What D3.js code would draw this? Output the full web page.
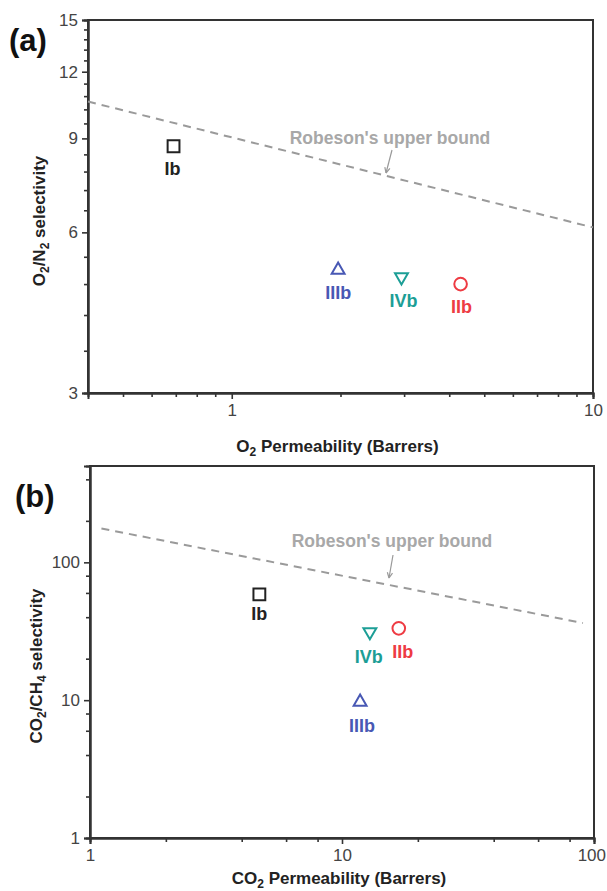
<!DOCTYPE html>
<html><head><meta charset="utf-8">
<script src="https://cdn.jsdelivr.net/npm/d3@7"></script>
<style>
html,body{margin:0;padding:0;background:#fff;}
svg{display:block;font-family:"Liberation Sans",Arial,sans-serif;}
</style></head>
<body><svg id="chart" width="607" height="891"></svg>
<script>
// ---------- data ----------
const samples = ["Ib", "IIb", "IIIb", "IVb"];
const sampleColors = ["#222222", "#ee3b43", "#4858b4", "#1c9e96"];
const sampleShapes = ["square", "circle", "triangleUp", "triangleDown"];

// panel (a)
const o2Perm = [0.69, 4.3, 1.97, 2.95];
const o2n2Sel = [8.7, 4.8, 5.1, 4.95];
const robesonA_x = [0.4, 10];
const robesonA_y = [10.55, 6.13];
const aXMajor = [1, 10];
const aXMinor = [0.5, 0.6, 0.7, 0.8, 0.9, 2, 3, 4, 5, 6, 7, 8, 9];
const aYMajor = [3, 6, 9, 12, 15];
const aYMinor = [3.6, 4.2, 4.8, 5.4, 6.6, 7.2, 7.8, 8.4, 9.6, 10.2, 10.8, 11.4, 12.6, 13.2, 13.8, 14.4];

// panel (b)
const co2Perm = [4.7, 16.8, 11.8, 12.9];
const co2ch4Sel = [58.6, 33.2, 9.7, 31.3];
const robesonB_x = [1.11, 90.4];
const robesonB_y = [176, 36.3];
const bXMajor = [1, 10, 100];
const bXMinor = [2, 4, 6, 8, 20, 40, 60, 80];
const bYMajor = [1, 10, 100];
const bYMinor = [2, 4, 6, 8, 20, 40, 60, 80, 200, 400];

// ---------- drawing ----------
const svg = d3.select("#chart");
const W = 607;
const FONT = '"Liberation Sans",Arial,sans-serif';
const TICK_FS = 17, TITLE_FS = 17, SUB_FS = 12, ROB_FS = 17.5, LBL_FS = 18, LETTER_FS = 31;

function symbolPath(shape){
  if(shape==="square") return d3.symbol(d3.symbolSquare, 140)();
  if(shape==="circle") return d3.symbol(d3.symbolCircle, 125)();
  return d3.symbol(d3.symbolTriangle, 72)();
}

function panel(cfg){
  const g = svg.append("g");
  const x = d3.scaleLog().domain(cfg.xDomain).range([cfg.left, cfg.right]);
  const y = d3.scaleLog().domain(cfg.yDomain).range([cfg.bottom, cfg.top]);

  // frame
  g.append("rect").attr("x", cfg.left).attr("y", cfg.top)
    .attr("width", cfg.right-cfg.left).attr("height", cfg.bottom-cfg.top)
    .attr("fill","none").attr("stroke","#333").attr("stroke-width",2);

  // axes
  const fmt = d => String(d);
  const xMaj = g.append("g").attr("transform",`translate(0,${cfg.bottom})`)
    .call(d3.axisBottom(x).tickValues(cfg.xMajor).tickFormat(fmt).tickSize(6).tickPadding(5));
  const xMin = g.append("g").attr("transform",`translate(0,${cfg.bottom})`)
    .call(d3.axisBottom(x).tickValues(cfg.xMinor).tickFormat("").tickSize(4));
  const yMaj = g.append("g").attr("transform",`translate(${cfg.left},0)`)
    .call(d3.axisLeft(y).tickValues(cfg.yMajor).tickFormat(fmt).tickSize(6).tickPadding(4));
  const yMin = g.append("g").attr("transform",`translate(${cfg.left},0)`)
    .call(d3.axisLeft(y).tickValues(cfg.yMinor).tickFormat("").tickSize(4));
  [xMaj,xMin,yMaj,yMin].forEach(a=>{
    a.select(".domain").attr("stroke","#333").attr("stroke-width",2);
    a.selectAll(".tick line").attr("stroke","#333").attr("stroke-width",1.6);
    a.selectAll(".tick text").attr("font-family",FONT).attr("font-size",TICK_FS).attr("fill","#444");
  });
  // keep the right-most x tick label inside the page
  xMaj.selectAll(".tick text").each(function(){
    const bb = this.getBBox();
    const tx = this.parentNode.transform.baseVal.consolidate().matrix.e;
    const over = tx + bb.x + bb.width - (W - 1);
    if(over > 0) d3.select(this).attr("x", -over);
  });

  // Robeson upper bound
  const line = d3.line().x(d=>x(d[0])).y(d=>y(d[1]));
  const pts = cfg.robX.map((v,i)=>[v, cfg.robY[i]]);
  g.append("path").attr("d", line(pts)).attr("fill","none")
    .attr("stroke","#9a9a9a").attr("stroke-width",2).attr("stroke-dasharray","8,6");
  g.append("text").attr("x", cfg.robLabel[0]).attr("y", cfg.robLabel[1])
    .attr("text-anchor","middle").attr("font-family",FONT).attr("font-weight","bold")
    .attr("font-size",ROB_FS).attr("fill","#a8a8a8").text("Robeson's upper bound");
  const a0 = cfg.robArrow[0], a1 = cfg.robArrow[1];
  g.append("line").attr("x1",a0[0]).attr("y1",a0[1]).attr("x2",a1[0]).attr("y2",a1[1])
    .attr("stroke","#999").attr("stroke-width",1.2);
  const ang = Math.atan2(a1[1]-a0[1], a1[0]-a0[0]);
  const hl = 6, hw = 0.45;
  g.append("path").attr("d", `M${a1[0]},${a1[1]} L${a1[0]-hl*Math.cos(ang-hw)},${a1[1]-hl*Math.sin(ang-hw)} M${a1[0]},${a1[1]} L${a1[0]-hl*Math.cos(ang+hw)},${a1[1]-hl*Math.sin(ang+hw)}`)
    .attr("stroke","#999").attr("stroke-width",1.2).attr("fill","none");

  // points
  samples.forEach((s,i)=>{
    const px = x(cfg.xs[i]), py = y(cfg.ys[i]);
    const shape = sampleShapes[i];
    const rot = shape==="triangleDown" ? 180 : 0;
    g.append("path").attr("d", symbolPath(shape))
      .attr("transform",`translate(${px},${py}) rotate(${rot})`)
      .attr("fill","none").attr("stroke",sampleColors[i]).attr("stroke-width",2);
    const off = cfg.labelOff[i];
    g.append("text").attr("x", px+off[0]).attr("y", py+off[1])
      .attr("text-anchor","middle").attr("font-family",FONT).attr("font-weight","bold")
      .attr("font-size",LBL_FS).attr("fill",sampleColors[i]).text(s);
  });

  // panel letter
  svg.append("text").attr("x",cfg.letterPos[0]).attr("y",cfg.letterPos[1])
    .attr("font-family",FONT).attr("font-weight","bold").attr("font-size",LETTER_FS)
    .attr("fill","#111").text(cfg.letter);

  // axis titles
  const xt = svg.append("text").attr("x",(cfg.left+cfg.right)/2 - 3).attr("y",cfg.xTitleY)
    .attr("text-anchor","middle").attr("font-family",FONT).attr("font-weight","bold")
    .attr("font-size",TITLE_FS).attr("fill","#222");
  cfg.xTitle.forEach(p=>{
    xt.append("tspan").attr("font-size",p.sub?SUB_FS:TITLE_FS).attr("dy",p.sub?3.5:(p.after?-3.5:0)).text(p.t);
  });
  const yt = svg.append("text").attr("transform",`translate(${cfg.yTitleX},${cfg.yTitleY}) rotate(-90)`)
    .attr("text-anchor","middle").attr("font-family",FONT).attr("font-weight","bold")
    .attr("font-size",TITLE_FS).attr("fill","#222");
  cfg.yTitle.forEach(p=>{
    yt.append("tspan").attr("font-size",p.sub?SUB_FS:TITLE_FS).attr("dy",p.sub?4:(p.after?-4:0)).text(p.t);
  });
}

panel({
  left:88, right:593, top:20, bottom:393,
  xDomain:[0.4,10], yDomain:[3,15],
  xMajor:aXMajor, xMinor:aXMinor, yMajor:aYMajor, yMinor:aYMinor,
  xs:o2Perm, ys:o2n2Sel,
  robX:robesonA_x, robY:robesonA_y,
  robLabel:[390,144], robArrow:[[392,150],[386,173]],
  labelOff:[[-1,29],[1,29],[0,29],[2,30]],
  letter:"(a)", letterPos:[9,51],
  xTitleY:452, yTitleX:45, yTitleY:221,
  xTitle:[{t:"O"},{t:"2",sub:true},{t:" Permeability (Barrers)",after:true}],
  yTitle:[{t:"O"},{t:"2",sub:true},{t:"/N",after:true},{t:"2",sub:true},{t:" selectivity",after:true}]
});

panel({
  left:90, right:594, top:466, bottom:838,
  xDomain:[1,100], yDomain:[1,500],
  xMajor:bXMajor, xMinor:bXMinor, yMajor:bYMajor, yMinor:bYMinor,
  xs:co2Perm, ys:co2ch4Sel,
  robX:robesonB_x, robY:robesonB_y,
  robLabel:[392,547], robArrow:[[393,555],[389,578]],
  labelOff:[[0,26],[4,30],[2,30],[-1,31]],
  letter:"(b)", letterPos:[15,507],
  xTitleY:884, yTitleX:42, yTitleY:666,
  xTitle:[{t:"CO"},{t:"2",sub:true},{t:" Permeability (Barrers)",after:true}],
  yTitle:[{t:"CO"},{t:"2",sub:true},{t:"/CH",after:true},{t:"4",sub:true},{t:" selectivity",after:true}]
});
</script>
</body></html>
